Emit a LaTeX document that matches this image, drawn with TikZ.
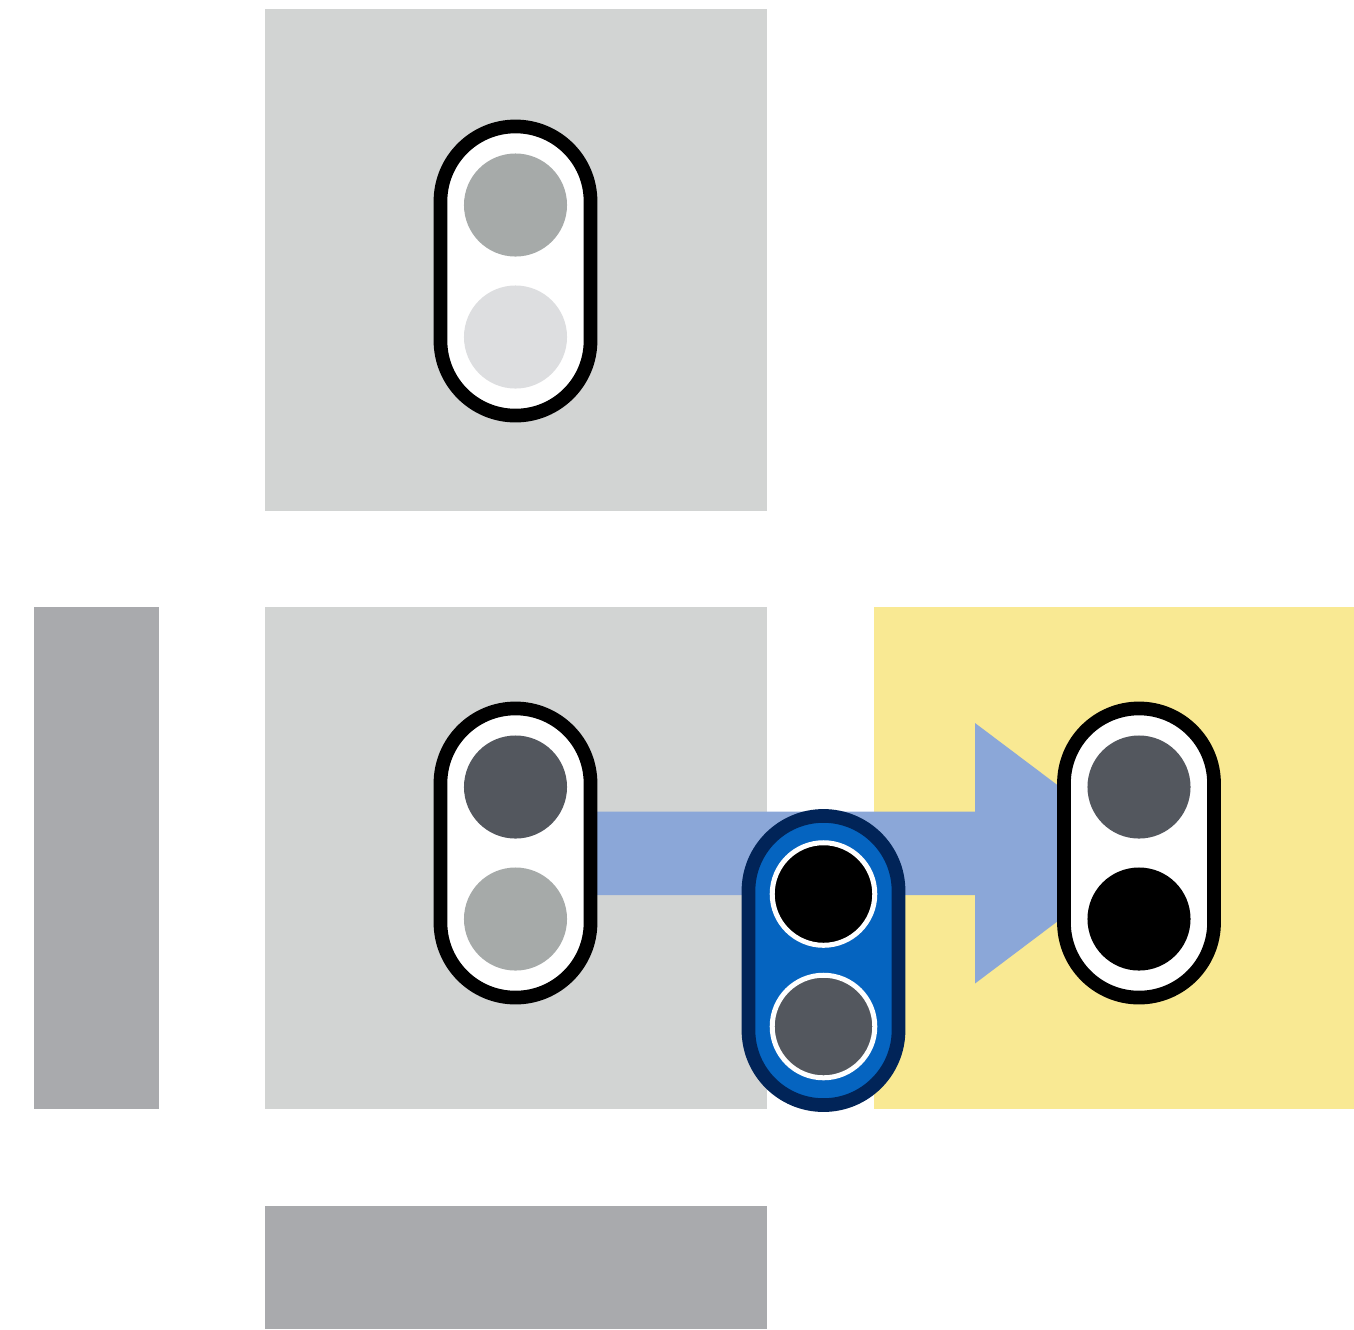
\documentclass[tikz,border=0pt]{standalone}
\usepackage{tikz}
\definecolor{panelgray}{HTML}{D2D4D3}
\definecolor{bargray}{HTML}{A9AAAD}
\definecolor{paleyellow}{HTML}{F9E993}
\definecolor{arrowblue}{HTML}{8BA7D8}
\definecolor{dotmid}{HTML}{A6AAA9}
\definecolor{dotpale}{HTML}{DDDEE0}
\definecolor{dotdark}{HTML}{53575E}
\definecolor{pillblue}{HTML}{0564C0}
\definecolor{pillnavy}{HTML}{012458}
\tikzset{
  pill/.style={draw=black, fill=white, line width=0.137cm, rounded corners=0.75cm, minimum width=1.5cm, minimum height=2.89cm, inner sep=0pt},
  bluepill/.style={pill, draw=pillnavy, fill=pillblue},
  dot/.style={circle, minimum size=1.03cm, inner sep=0pt},
  ringdot/.style={dot, draw=white, line width=0.05cm, minimum size=1.025cm}
}
\begin{document}
\begin{tikzpicture}[x=0.01cm, y=-0.01cm]
\useasboundingbox (0,0) rectangle (1354,1329);
% Panels
\fill[panelgray] (265,9) rectangle (767,511);
\fill[panelgray] (265,607) rectangle (767,1109);
\fill[bargray] (34,607) rectangle (159,1109);
\fill[bargray] (265,1206) rectangle (767,1329);
\fill[paleyellow] (874,607) rectangle (1354,1109);

% Arrow
\fill[arrowblue] (515,811.5) -- (975,811.5) -- (975,723) -- (1148,853.2) -- (975,983.5) -- (975,895) -- (515,895) -- cycle;

% Top signal
\node[pill] (toppill) at (515.5,271) {};
\node[dot, fill=dotmid] (topupper) at (515.5,205) {};
\node[dot, fill=dotpale] (toplower) at (515.5,337) {};

% Middle signal
\node[pill] (midpill) at (515.5,853) {};
\node[dot, fill=dotdark] (midupper) at (515.5,787) {};
\node[dot, fill=dotmid] (midlower) at (515.5,919) {};

% Right signal
\node[pill] (rightpill) at (1139,853) {};
\node[dot, fill=dotdark] (rightupper) at (1139,787) {};
\node[dot, fill=black] (rightlower) at (1139,919) {};

% Moving signal
\node[bluepill] (bluepill) at (823.5,960.5) {};
\node[ringdot, fill=black] (blueupper) at (823.5,894) {};
\node[ringdot, fill=dotdark] (bluelower) at (823.5,1026.5) {};
\end{tikzpicture}
\end{document}
